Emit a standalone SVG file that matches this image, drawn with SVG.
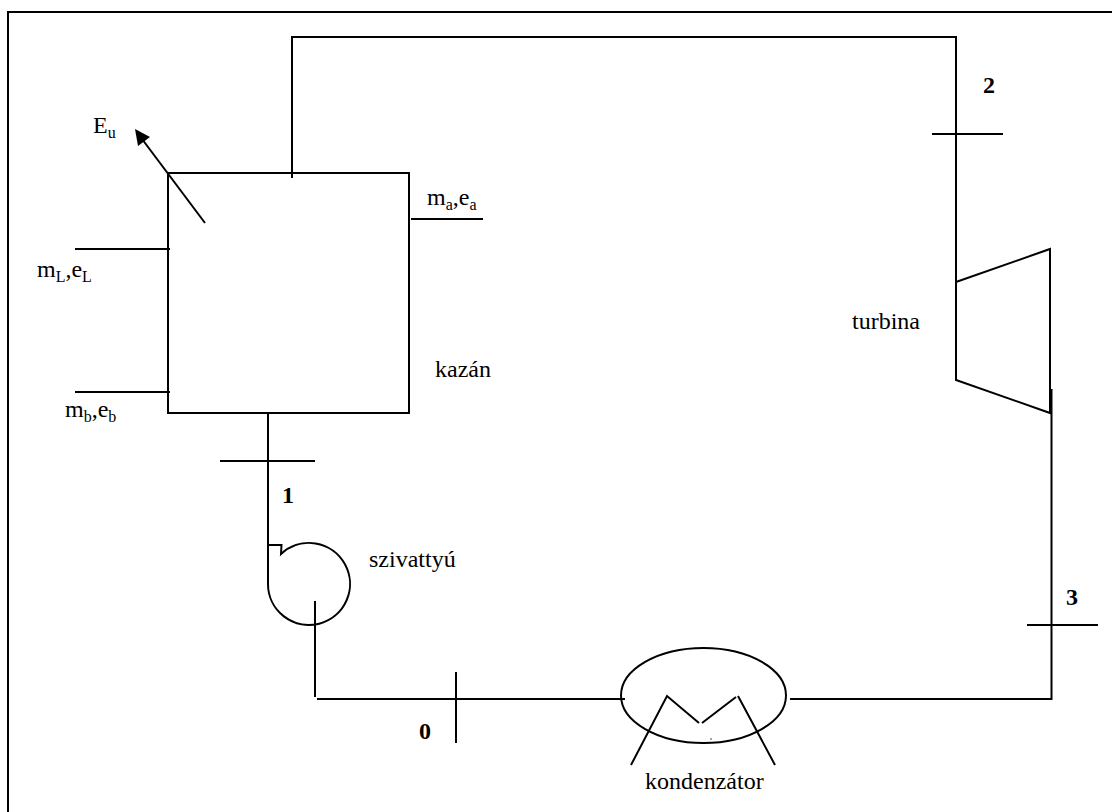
<svg xmlns="http://www.w3.org/2000/svg" width="1112" height="812" viewBox="0 0 1112 812">
<style>
.l{fill:none;stroke:#000;stroke-width:2}
text{font-family:"Liberation Serif","Times New Roman",serif;font-size:24px;fill:#000}
.b{font-weight:bold}
.s{font-size:16px}
</style>
<rect width="1112" height="812" fill="#fff"/>
<path class="l" d="M8 812V12H1112"/>
<g id="connectors">
<path class="l" d="M292 178V37H956V282"/>
<path class="l" d="M1051.500 389V699H790"/>
<path class="l" d="M317 699H625"/>
<path class="l" d="M268 414V545"/>
<path class="l" d="M315 601V697"/>
<path class="l" d="M75 249H170"/>
<path class="l" d="M75 392H170"/>
<path class="l" d="M411 219H483"/>
<path class="l" d="M932 134H1003"/>
<path class="l" d="M1027 625H1098"/>
<path class="l" d="M220 461H315"/>
<path class="l" d="M456 672V743"/>
</g>
<g id="kazan"><rect class="l" x="168" y="173" width="241" height="240"/>
<path class="l" d="M205 223L142 139"/><polygon points="135,129 150,137 138,146"/>
<text x="435" y="377">kazán</text></g>
<g id="turbina"><polygon class="l" points="956,282 1050,249 1050,413 956,380"/><text x="852" y="329">turbina</text></g>
<g id="szivattyu"><path class="l" d="M268 545V584A41 41 0 1 0 281 554L281.500 545H268"/><text x="369" y="567">szivattyú</text></g>
<g id="kondenzator"><ellipse class="l" cx="703.500" cy="695.500" rx="82.500" ry="47.500"/>
<path class="l" d="M631 765L667 696L699 723M702 723L736 697M738 696L775 765"/>
<circle cx="711" cy="739" r="0.7"/>
<text x="645" y="789">kondenzátor</text></g>
<g id="labels">
<text x="93" y="133">E<tspan class="s" dy="5">u</tspan></text>
<text x="427" y="205">m<tspan class="s" dy="5">a</tspan><tspan dy="-5">,e</tspan><tspan class="s" dy="5">a</tspan></text>
<text x="37" y="277">m<tspan class="s" dy="5">L</tspan><tspan dy="-5">,e</tspan><tspan class="s" dy="5">L</tspan></text>
<text x="65" y="417">m<tspan class="s" dy="5">b</tspan><tspan dy="-5">,e</tspan><tspan class="s" dy="5">b</tspan></text>
<text class="b" x="983" y="93">2</text>
<text class="b" x="1066" y="605">3</text>
<text class="b" x="282" y="503">1</text>
<text class="b" x="419" y="739">0</text>
</g>
</svg>
